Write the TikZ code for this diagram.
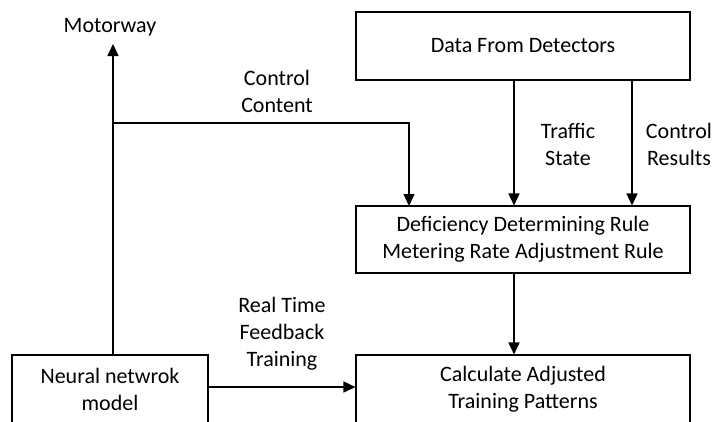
\documentclass[tikz,border=0pt]{standalone}
\usepackage{fontspec}
\setmainfont{Carlito}
\usetikzlibrary{arrows.meta}
\begin{document}
\begin{tikzpicture}[x=1pt,y=-1pt,
  box/.style={draw,line width=1.1pt,minimum width=334pt,minimum height=68pt,inner sep=0pt,align=center},
  arr/.style={line width=1.6pt,-{Triangle[width=11pt,length=12pt]}},
  lbl/.style={align=center,inner sep=0pt},
  every node/.style={font=\fontsize{22pt}{27pt}\selectfont,text=black}]
\useasboundingbox (0,0) rectangle (714,421);
\clip (0,0) rectangle (714,421);
\node[box] (data) at (523,46) {Data From Detectors};
\node[box,minimum height=67pt] (def) at (523,239.5) {Deficiency Determining Rule\\Metering Rate Adjustment Rule};
\node[box] (calc) at (523,389) {Calculate Adjusted\\Training Patterns};
\node[box,minimum width=196pt] (nn) at (110,389) {Neural netwrok\\model};
\node[lbl] (motor) at (110,27) {Motorway};
\node[lbl] (cc) at (277,91) {Control\\Content};
\node[lbl] (ts) at (568,144) {Traffic\\State};
\node[lbl] (cr) at (679,144) {Control\\Results};
\node[lbl] (rt) at (282,334) {Real Time\\Feedback\\Training};
\coordinate (mtop) at (113,44);
\coordinate (j) at (113,123);
\coordinate (cin) at (409,206);
\draw[arr] (nn.north -| j) -- (mtop);
\draw[arr,line width=1.4pt] (j) -| (cin);
\draw[arr] ([xshift=-9pt]data.south) -- ([xshift=-9pt]def.north);
\draw[arr] ([xshift=109pt]data.south) -- ([xshift=109pt]def.north);
\draw[arr] ([xshift=-9pt]def.south) -- ([xshift=-9pt]calc.north);
\draw[arr] ([yshift=2pt]nn.east) -- ([yshift=2pt]calc.west);
\end{tikzpicture}
\end{document}
